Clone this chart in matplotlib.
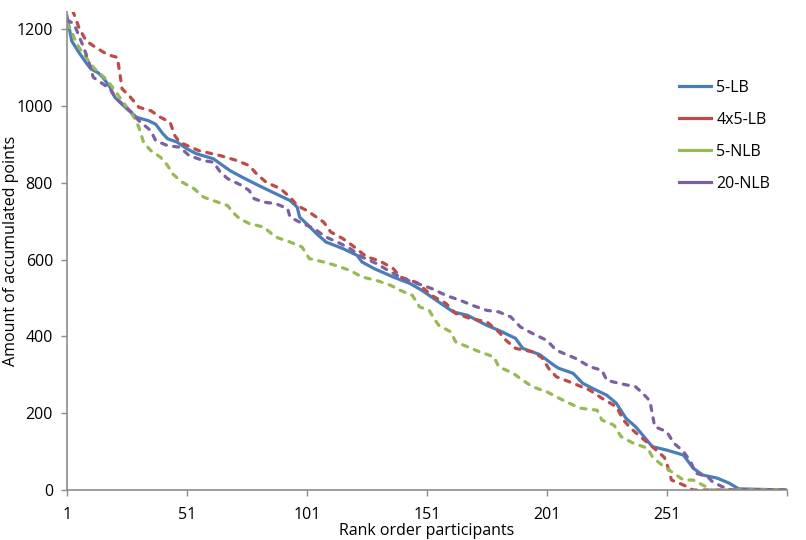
import matplotlib
matplotlib.use('Agg')
import matplotlib.pyplot as plt
from matplotlib.lines import Line2D

# rank positions and accumulated points
lb5_rank = [1, 3, 6, 9, 11, 14, 16, 19, 21, 26, 30, 35, 38, 41, 43, 47, 51, 55, 62, 69,
            74, 81, 88, 94, 97, 98, 101, 105, 109, 116, 122, 124, 129, 137, 144, 149, 155, 162, 168, 176,
            181, 188, 191, 198, 204, 206, 212, 216, 220, 226, 230, 234, 238, 241, 245, 251, 258, 262, 266, 272,
            277, 281, 301]
lb5_vals = [1235, 1170, 1140, 1113, 1097, 1087, 1075, 1049, 1023, 993, 971, 962, 953, 928, 915, 906, 889, 876, 863, 832,
            815, 793, 772, 754, 737, 711, 693, 668, 646, 629, 611, 594, 577, 555, 538, 520, 494, 464, 455, 429,
            416, 395, 369, 353, 325, 317, 304, 278, 265, 247, 226, 187, 165, 143, 113, 104, 91, 57, 39, 31,
            18, 3, 0]

lb4x5_rank = [1, 6, 9, 13, 18, 22, 23, 24, 27, 31, 36, 40, 44, 46, 48, 56, 65, 72, 77, 80,
              84, 90, 94, 97, 101, 105, 108, 111, 116, 120, 126, 131, 137, 140, 147, 153, 159, 163, 169, 176,
              181, 184, 188, 195, 199, 202, 205, 212, 219, 224, 230, 233, 236, 240, 245, 250, 251, 253, 258, 262,
              301]
lb4x5_vals = [1290, 1205, 1170, 1153, 1134, 1127, 1088, 1045, 1027, 997, 988, 971, 958, 923, 906, 884, 871, 858, 845, 824,
              802, 785, 763, 741, 728, 711, 698, 672, 655, 637, 607, 598, 577, 555, 540, 507, 486, 460, 447, 438,
              412, 390, 369, 360, 345, 315, 295, 278, 260, 239, 217, 182, 161, 139, 113, 85, 70, 26, 13, 0,
              0]

nlb5_rank = [1, 3, 4, 6, 9, 12, 15, 18, 20, 23, 26, 29, 31, 33, 36, 40, 43, 45, 49, 54,
             58, 62, 68, 70, 73, 77, 83, 88, 94, 99, 102, 108, 113, 119, 124, 130, 136, 140, 145, 148,
             152, 154, 156, 161, 163, 168, 173, 179, 181, 187, 191, 195, 201, 205, 209, 215, 222, 224, 229, 232,
             237, 243, 245, 248, 252, 258, 262, 266, 270, 301]
nlb5_vals = [1215, 1196, 1178, 1153, 1127, 1101, 1084, 1066, 1049, 1023, 997, 971, 945, 905, 884, 867, 845, 824, 802, 785,
             763, 754, 741, 724, 707, 694, 685, 659, 646, 633, 603, 594, 585, 572, 555, 546, 533, 520, 507, 477,
             468, 447, 429, 412, 386, 373, 360, 347, 321, 304, 286, 269, 256, 243, 230, 213, 208, 182, 169, 139,
             122, 109, 87, 70, 52, 26, 26, 13, 0, 0]

nlb20_rank = [1, 4, 6, 8, 10, 12, 16, 19, 21, 24, 28, 31, 36, 38, 43, 48, 52, 58, 62, 65,
              68, 74, 77, 79, 83, 88, 93, 94, 98, 104, 109, 115, 119, 124, 130, 136, 141, 147, 153, 159,
              165, 170, 176, 181, 186, 190, 195, 201, 205, 208, 213, 219, 224, 226, 231, 238, 241, 244, 246, 251,
              254, 258, 261, 263, 268, 270, 274, 278, 301]
nlb20_vals = [1225, 1214, 1183, 1153, 1118, 1075, 1058, 1045, 1023, 1006, 984, 962, 936, 910, 897, 893, 871, 858, 854, 828,
              811, 793, 780, 759, 750, 746, 733, 711, 698, 681, 659, 642, 629, 607, 590, 568, 551, 538, 525, 507,
              494, 481, 468, 464, 451, 425, 408, 390, 364, 356, 343, 321, 312, 286, 278, 269, 252, 232, 165, 152,
              122, 100, 74, 44, 35, 22, 9, 0, 0]

x_ticks = [1, 51, 101, 151, 201, 251, 301]
x_labels = ['1', '51', '101', '151', '201', '251', '']
y_ticks = [0, 200, 400, 600, 800, 1000, 1200]

dash = (0, (1.6, 2.3))
series = [
    ('5-LB', lb5_rank, lb5_vals, '#4A7EBB', '-'),
    ('4x5-LB', lb4x5_rank, lb4x5_vals, '#BE4B48', dash),
    ('5-NLB', nlb5_rank, nlb5_vals, '#98B954', dash),
    ('20-NLB', nlb20_rank, nlb20_vals, '#7D60A0', dash),
]

plt.rcParams['font.family'] = ['Open Sans', 'DejaVu Sans']

fig = plt.figure(figsize=(8.06, 5.4), dpi=100)
ax = fig.add_axes([0.083, 0.0926, 0.893, 0.885])

handles = []
for name, r, v, col, ls in series:
    assert len(r) == len(v)
    ax.plot(r, v, color=col, linestyle=ls, linewidth=2.3,
            dash_capstyle='round', solid_joinstyle='round')
    handles.append(Line2D([0], [0], color=col, linewidth=2.3, label=name))

ax.set_xlim(1, 301)
ax.set_ylim(0, 1245)
ax.set_xticks(x_ticks)
ax.set_xticklabels(x_labels)
ax.set_yticks(y_ticks)
ax.tick_params(axis='both', labelsize=11.5, length=4, width=1, color='#8c8c8c', pad=6)
ax.tick_params(axis='x', pad=8)

for s in ['top', 'right']:
    ax.spines[s].set_visible(False)
for s in ['left', 'bottom']:
    ax.spines[s].set_color('#8c8c8c')
    ax.spines[s].set_linewidth(1.2)

ax.set_xlabel('Rank order participants', fontsize=11.5)
ax.xaxis.set_label_coords(0.5, -0.07)
ax.set_ylabel('Amount of accumulated points', fontsize=11.5)
ax.yaxis.set_label_coords(-0.066, 0.5)

ax.legend(handles=handles, loc='upper left', bbox_to_anchor=(0.83, 0.888),
          frameon=False, fontsize=11.5, handlelength=2.0, handletextpad=0.35,
          labelspacing=1.0)

fig.savefig('out.png', dpi=100)
